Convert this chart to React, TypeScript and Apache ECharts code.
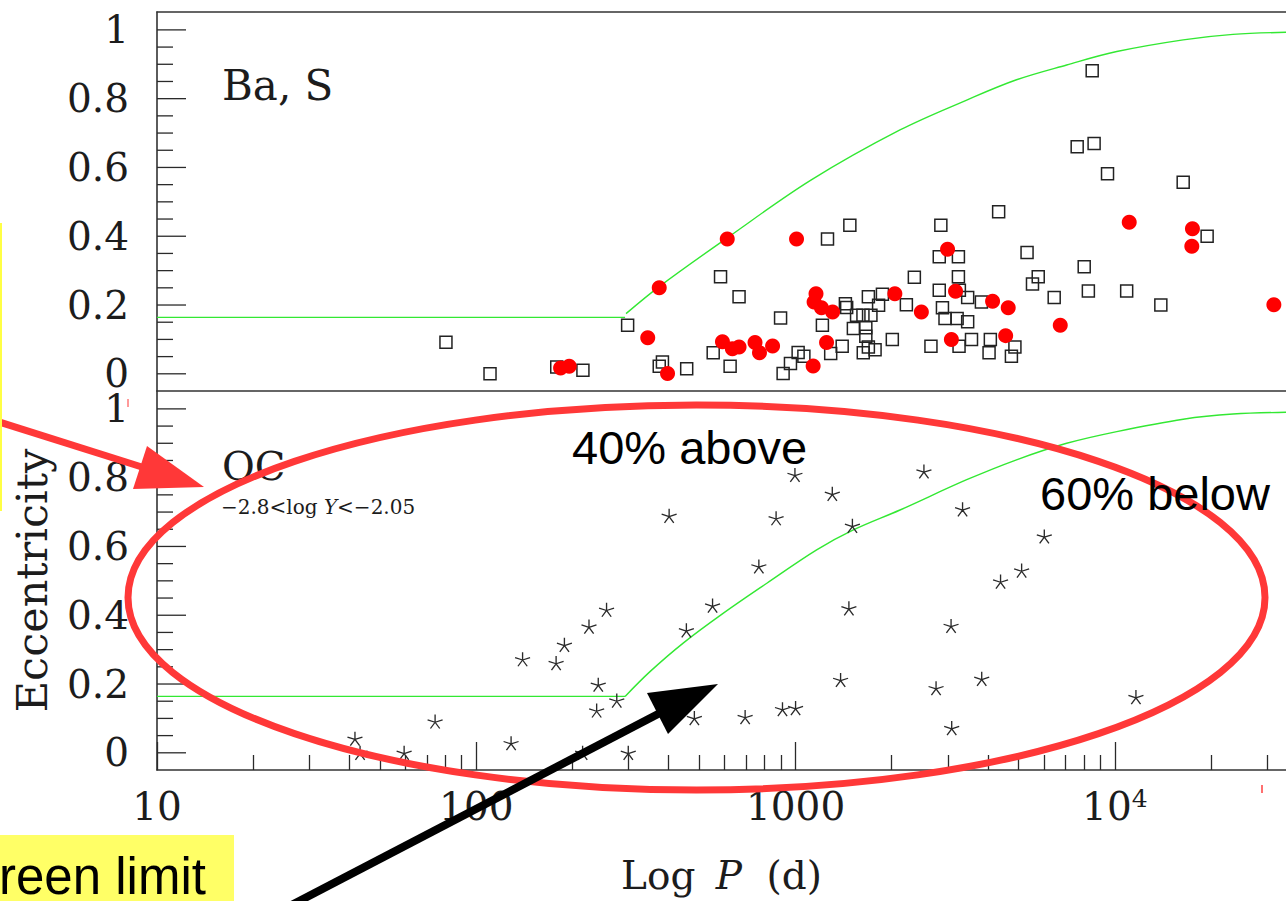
import React, { useEffect, useRef } from 'react';
import * as echarts from 'echarts';

const SERIF = '"DejaVu Serif", "Liberation Serif", serif';
const SANS = '"Liberation Sans", Arial, sans-serif';
const INK = '#1c1c1c';

// Orbital period as log10(P / d), eccentricity e
const baSSquares: number[][] = [
  [1.905, 0.092], [2.043, 0.0], [2.252, 0.02], [2.334, 0.01], [2.474, 0.141], [2.583, 0.034],
  [2.573, 0.022], [2.659, 0.015], [2.742, 0.061], [2.765, 0.282], [2.795, 0.022], [2.823, 0.224],
  [2.953, 0.162], [2.961, 0.001], [2.984, 0.03], [3.008, 0.062], [3.026, 0.051], [3.084, 0.141],
  [3.1, 0.392], [3.11, 0.059], [3.146, 0.08], [3.156, 0.204], [3.16, 0.193], [3.17, 0.432],
  [3.181, 0.132], [3.191, 0.17], [3.211, 0.17], [3.236, 0.17], [3.22, 0.134], [3.22, 0.109],
  [3.212, 0.061], [3.228, 0.224], [3.228, 0.078], [3.249, 0.07], [3.26, 0.199], [3.272, 0.231],
  [3.303, 0.1], [3.347, 0.201], [3.372, 0.281], [3.424, 0.08], [3.45, 0.34], [3.45, 0.243],
  [3.455, 0.432], [3.46, 0.192], [3.468, 0.161], [3.506, 0.161], [3.51, 0.34], [3.51, 0.282],
  [3.512, 0.08], [3.513, 0.243], [3.539, 0.222], [3.539, 0.151], [3.551, 0.1], [3.582, 0.209],
  [3.606, 0.061], [3.61, 0.1], [3.636, 0.471], [3.676, 0.051], [3.687, 0.078], [3.725, 0.353],
  [3.742, 0.261], [3.76, 0.282], [3.81, 0.222], [3.882, 0.66], [3.904, 0.311], [3.917, 0.241],
  [3.929, 0.881], [3.935, 0.67], [3.977, 0.582], [4.037, 0.241], [4.144, 0.2], [4.214, 0.557],
  [4.289, 0.4],
];

const baSCircles: number[][] = [
  [2.264, 0.017], [2.291, 0.022], [2.537, 0.105], [2.573, 0.25], [2.599, 0.001], [2.771, 0.093],
  [2.786, 0.392], [2.802, 0.073], [2.823, 0.078], [2.873, 0.091], [2.887, 0.061], [2.928, 0.081],
  [3.003, 0.392], [3.055, 0.023], [3.058, 0.209], [3.064, 0.233], [3.081, 0.192], [3.097, 0.091],
  [3.116, 0.18], [3.311, 0.233], [3.394, 0.18], [3.476, 0.362], [3.488, 0.1], [3.501, 0.24],
  [3.617, 0.211], [3.658, 0.111], [3.666, 0.192], [3.829, 0.141], [4.045, 0.441], [4.241, 0.371],
  [4.243, 0.422], [4.498, 0.201],
];

const ocStars: number[][] = [
  [1.62, 0.041], [1.636, 0.0], [1.774, 0.0], [1.871, 0.091], [2.109, 0.028], [2.145, 0.272],
  [2.25, 0.261], [2.276, 0.314], [2.333, 0.0], [2.353, 0.367], [2.377, 0.123], [2.382, 0.198],
  [2.408, 0.416], [2.44, 0.152], [2.476, 0.0], [2.604, 0.689], [2.658, 0.356], [2.683, 0.101],
  [2.74, 0.428], [2.842, 0.104], [2.885, 0.542], [2.939, 0.682], [2.959, 0.127], [2.998, 0.808],
  [3.0, 0.13], [3.115, 0.753], [3.141, 0.212], [3.167, 0.42], [3.178, 0.66], [3.402, 0.818],
  [3.44, 0.188], [3.487, 0.369], [3.489, 0.072], [3.523, 0.708], [3.583, 0.215], [3.642, 0.498],
  [3.708, 0.53], [3.779, 0.629], [4.066, 0.162],
];

// Upper envelope in each panel: a flat floor, then the rising branch
const greenFloorTop: number[][] = [[1.0, 0.164], [2.466, 0.164]];
const greenRiseTop: number[][] = [
  [2.469, 0.175], [2.575, 0.255], [2.784, 0.394], [3.048, 0.563], [3.327, 0.709], [3.536, 0.796],
  [3.692, 0.855], [3.849, 0.898], [4.006, 0.937], [4.214, 0.971], [4.37, 0.987], [4.536, 0.993],
];
const greenFloorBottom: number[][] = [[1.0, 0.164], [2.466, 0.164]];
const greenRiseBottom: number[][] = [
  [2.466, 0.164], [2.544, 0.236], [2.648, 0.319], [2.774, 0.406], [2.91, 0.493], [3.066, 0.59],
  [3.181, 0.648], [3.327, 0.706], [3.536, 0.794], [3.692, 0.852], [3.849, 0.9], [4.006, 0.934],
  [4.214, 0.97], [4.37, 0.985], [4.536, 0.99],
];

// Axis ticks
const xMajorTicks = [1, 2, 3, 4];
const periodMinorTicks = [
  20, 30, 40, 50, 60, 70, 80, 90,
  200, 300, 400, 500, 600, 700, 800, 900,
  2000, 3000, 4000, 5000, 6000, 7000, 8000, 9000,
  20000, 30000,
];
const yMajorTicks = [0, 0.2, 0.4, 0.6, 0.8, 1];
const yMinorTicks = [0.05, 0.1, 0.15, 0.25, 0.3, 0.35, 0.45, 0.5, 0.55, 0.65, 0.7, 0.75, 0.85, 0.9, 0.95];

const X_MIN = 1;
const X_MAX = 4.536;
const Y_MIN = -0.05;
const Y_MAX = 1.052;

const GRID_LEFT = 157;
const CHART_W = 1286;
const CHART_H = 901;

const STAR = 'path://M10,0 L10,10 M10,10 L19.51,6.91 M10,10 L15.88,18.09 M10,10 L4.12,18.09 M10,10 L0.49,6.91';
const GREEN = '#33e833';
const TICK_COLOR = '#2a2a2a';

export default function App() {
  const ref = useRef<HTMLDivElement>(null);

  useEffect(() => {
    if (!ref.current) return;
    const chart = echarts.init(ref.current, undefined, { renderer: 'svg' });

    const frame = { color: '#333', width: 1.6 };
    const tickLine = () => ({ color: TICK_COLOR, width: 1.3 });
    const xBase: any = {
      type: 'value', min: X_MIN, max: X_MAX,
      splitLine: { show: false },
      axisLine: { show: true, onZero: false, lineStyle: frame },
      axisTick: { show: false },
      axisLabel: { show: false },
    };
    const yAxisFor = (gridIndex: number, extra: any = {}) => ({
      type: 'value', min: Y_MIN, max: Y_MAX, gridIndex, position: 'left',
      splitLine: { show: false },
      axisLine: { show: true, onZero: false, lineStyle: frame },
      axisTick: { show: false },
      axisLabel: {
        show: true, customValues: yMajorTicks, margin: 28,
        fontFamily: SERIF, fontSize: 39, lineHeight: 30, color: INK,
      },
      ...extra,
    });
    const envelope = (axisIndex: number, data: number[][], smooth: number) => ({
      type: 'line', xAxisIndex: axisIndex, yAxisIndex: axisIndex, data, symbol: 'none', smooth,
      lineStyle: { color: GREEN, width: 1.4 }, z: 2, silent: true,
    });

    const annotations: any[] = [
      // panel captions
      {
        type: 'text', x: 222, y: 85, z: 50,
        style: { text: 'Ba, S', fontFamily: SERIF, fontSize: 42, fill: INK, verticalAlign: 'middle', textVerticalAlign: 'middle' },
      },
      {
        type: 'text', x: 222, y: 466, z: 50,
        style: { text: 'OC', fontFamily: SERIF, fontSize: 40, fill: INK, verticalAlign: 'middle', textVerticalAlign: 'middle' },
      },
      {
        type: 'text', x: 221, y: 507, z: 50,
        style: {
          text: '{n|−2.8<log }{i|Y}{n|<−2.05}',
          verticalAlign: 'middle', textVerticalAlign: 'middle',
          rich: {
            n: { fontFamily: SERIF, fontSize: 20, fill: INK, color: INK },
            i: { fontFamily: SERIF, fontSize: 20, fill: INK, color: INK, fontStyle: 'italic' },
          },
        },
      },
      // highlight ellipse
      {
        type: 'ellipse', z: 100,
        shape: { cx: 696.5, cy: 597.5, rx: 568.5, ry: 192.5 },
        style: { fill: 'none', stroke: '#ff3838', lineWidth: 7 },
      },
      {
        type: 'text', x: 572, y: 447, z: 101,
        style: { text: '40% above', fontFamily: SANS, fontSize: 47, fill: '#000', verticalAlign: 'middle', textVerticalAlign: 'middle' },
      },
      {
        type: 'text', x: 1040, y: 493, z: 101,
        style: { text: '60% below', fontFamily: SANS, fontSize: 47, fill: '#000', verticalAlign: 'middle', textVerticalAlign: 'middle' },
      },
      // red arrow from the left margin
      {
        type: 'line', z: 100,
        shape: { x1: -4, y1: 421, x2: 145, y2: 468 },
        style: { stroke: '#ff3838', lineWidth: 7 },
      },
      {
        type: 'polygon', z: 100,
        shape: { points: [[147, 446], [133, 489], [204, 487]] },
        style: { fill: '#ff3838' },
      },
      // black arrow pointing at the kink of the limit
      {
        type: 'line', z: 100,
        shape: { x1: 282, y1: 910, x2: 660, y2: 713 },
        style: { stroke: '#000', lineWidth: 8 },
      },
      {
        type: 'polygon', z: 100,
        shape: { points: [[647, 693], [668, 734], [718, 684]] },
        style: { fill: '#000' },
      },
      // yellow callouts
      {
        type: 'rect', z: 100,
        shape: { x: 0, y: 835, width: 234, height: 70 },
        style: { fill: '#ffff66' },
      },
      {
        type: 'text', x: -1, y: 876, z: 101,
        style: { text: 'reen limit', fontFamily: SANS, fontSize: 51, fill: '#000', verticalAlign: 'middle', textVerticalAlign: 'middle' },
      },
      {
        type: 'rect', z: 100,
        shape: { x: 0, y: 223, width: 2, height: 288 },
        style: { fill: '#ffff44' },
      },
      // small red marks
      {
        type: 'rect', z: 100,
        shape: { x: 127, y: 399, width: 2, height: 8 },
        style: { fill: '#ff9a9a' },
      },
      {
        type: 'rect', z: 100,
        shape: { x: 1261, y: 785, width: 2, height: 8 },
        style: { fill: '#ff7070' },
      },
    ];

    const option: any = {
      animation: false,
      backgroundColor: '#ffffff',
      grid: [
        { left: GRID_LEFT, top: 12, right: 0, height: 379 },
        { left: GRID_LEFT, top: 391, right: 0, height: 379 },
      ],
      xAxis: [
        { ...xBase, gridIndex: 0, position: 'bottom' },
        {
          ...xBase, gridIndex: 1, position: 'bottom',
          axisTick: { show: true, inside: true, length: 28, customValues: xMajorTicks, lineStyle: tickLine() },
          axisLabel: {
            show: true, customValues: xMajorTicks, margin: 16,
            formatter: (v: number) => (Math.round(v) === 4 ? '{b|10}{s|4}' : '{n|' + Math.round(Math.pow(10, v)) + '}'),
            rich: {
              n: { fontFamily: SERIF, fontSize: 39, color: INK, lineHeight: 40 },
              b: { fontFamily: SERIF, fontSize: 39, color: INK, lineHeight: 40, padding: [16, 0, 0, 0], verticalAlign: 'bottom' },
              s: { fontFamily: SERIF, fontSize: 25, color: INK, lineHeight: 38, verticalAlign: 'top' },
            },
          },
          name: '{a|Log }{b|P}{a| (d)}',
          nameLocation: 'middle',
          nameGap: 86,
          nameTextStyle: {
            rich: {
              a: { fontFamily: SERIF, fontSize: 39, color: INK },
              b: { fontFamily: SERIF, fontSize: 39, color: INK, fontStyle: 'italic', padding: [0, 12, 0, 8] },
            },
          },
        },
        { ...xBase, gridIndex: 0, position: 'top' },
        {
          ...xBase, gridIndex: 1, position: 'bottom',
          axisLine: { show: false, onZero: false },
          axisTick: { show: true, inside: true, length: 15, customValues: periodMinorTicks.map((p) => Math.log10(p)), lineStyle: tickLine() },
        },
      ],
      yAxis: [
        yAxisFor(0),
        yAxisFor(1, {
          name: 'Eccentricity', nameLocation: 'middle', nameRotate: 90, nameGap: 104,
          nameTextStyle: { fontFamily: SERIF, fontSize: 43, color: INK },
        }),
      ],
      series: [
        envelope(0, greenFloorTop, 0),
        envelope(0, greenRiseTop, 0.35),
        {
          type: 'scatter', xAxisIndex: 0, yAxisIndex: 0, data: baSSquares, symbol: 'rect', symbolSize: 12,
          itemStyle: { color: 'transparent', borderColor: '#222', borderWidth: 1.5, opacity: 1 }, z: 3,
        },
        {
          type: 'scatter', xAxisIndex: 0, yAxisIndex: 0, data: baSCircles, symbol: 'circle', symbolSize: 15,
          itemStyle: { color: '#ff0000', opacity: 1 }, z: 4,
        },
        envelope(1, greenFloorBottom, 0),
        envelope(1, greenRiseBottom, 0.35),
        {
          type: 'scatter', xAxisIndex: 1, yAxisIndex: 1, data: ocStars, symbol: STAR, symbolSize: [15, 14],
          itemStyle: { color: 'transparent', borderColor: '#2a2a2a', borderWidth: 1.3, opacity: 1 }, z: 3,
        },
      ],
      graphic: annotations,
    };

    chart.setOption(option);

    // inward ticks along the left frame, positioned through each panel's y scale
    const yTicks: any[] = [];
    [0, 1].forEach((i) => {
      const add = (values: number[], length: number) => {
        values.forEach((v) => {
          const p = chart.convertToPixel({ xAxisIndex: i, yAxisIndex: i } as any, [X_MIN, v]) as number[];
          if (!p || !isFinite(p[0]) || !isFinite(p[1])) return;
          yTicks.push({
            type: 'line', z: 40, silent: true,
            shape: { x1: p[0], y1: p[1], x2: p[0] + length, y2: p[1] },
            style: { stroke: TICK_COLOR, lineWidth: 1.3 },
          });
        });
      };
      add(yMinorTicks, 16);
      add(yMajorTicks, 29);
    });
    chart.setOption({ graphic: [...annotations, ...yTicks] });

    return () => chart.dispose();
  }, []);

  return (
    <div
      ref={ref}
      style={{ position: 'fixed', left: 0, top: 0, width: CHART_W, height: CHART_H, background: '#fff' }}
    />
  );
}
